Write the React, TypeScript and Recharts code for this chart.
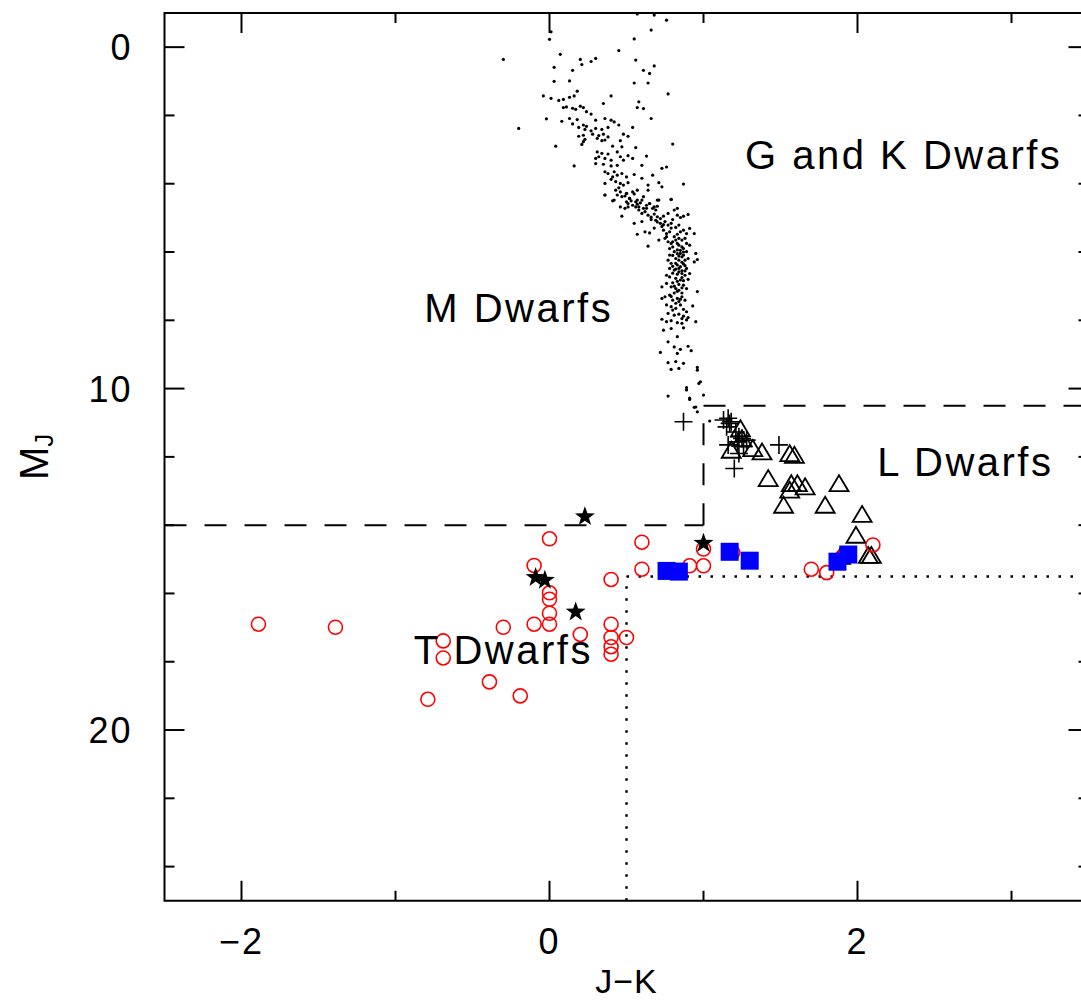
import React from 'react';
import { ScatterChart, Scatter, XAxis, YAxis, ReferenceLine, ReferenceArea, ReferenceDot } from 'recharts';

// ---- data (J-K, M_J) ----
const fieldDwarfs = [
  [0.57,-0.97],[0.68,-0.94],[0.76,-0.79],[0.66,-0.50],[0.55,-0.24],[0.00,-0.23],[0.01,-0.45],[0.45,0.10],[0.07,0.21],[-0.30,0.36],
  [0.20,0.36],[0.27,0.42],[0.30,0.33],[0.21,0.51],[0.56,0.38],[0.03,0.59],[0.15,0.68],[0.61,0.68],[0.68,0.55],[0.65,0.77],
  [0.03,1.00],[0.13,0.99],[0.55,1.05],[0.64,1.05],[0.18,1.29],[-0.04,1.43],[0.01,1.50],[0.06,1.56],[0.09,1.53],[0.13,1.47],
  [0.16,1.43],[0.40,1.43],[0.77,1.37],[0.35,1.65],[0.58,1.60],[0.57,1.77],[0.61,1.80],[0.09,1.77],[0.11,1.75],[0.15,1.79],
  [0.17,1.82],[0.20,1.73],[0.22,1.77],[0.24,1.89],[0.27,1.96],[-0.02,2.10],[0.08,2.17],[0.13,2.09],[0.18,2.12],[0.15,2.25],
  [0.22,2.28],[0.24,2.32],[0.30,2.14],[0.36,2.09],[0.40,2.14],[0.42,2.19],[0.66,2.09],[-0.20,2.38],[0.19,2.35],[0.23,2.41],
  [0.27,2.45],[0.30,2.38],[0.34,2.41],[0.38,2.35],[0.45,2.28],[0.54,2.35],[0.19,2.61],[0.22,2.58],[0.28,2.55],[0.32,2.59],
  [0.35,2.55],[0.38,2.63],[0.22,2.77],[0.23,2.70],[0.31,2.67],[0.34,2.74],[0.36,2.72],[0.48,2.55],[0.51,2.61],[0.46,2.74],
  [0.21,2.85],[0.04,2.90],[0.41,2.90],[0.47,2.92],[0.56,2.94],[0.80,2.84],[0.31,3.07],[0.34,3.11],[0.38,3.13],[0.44,3.07],
  [0.51,3.18],[0.63,3.19],[0.30,3.26],[0.32,3.21],[0.36,3.26],[0.40,3.31],[0.46,3.21],[0.48,3.31],[0.54,3.26],[0.16,3.48],
  [0.30,3.41],[0.35,3.43],[0.40,3.48],[0.44,3.46],[0.60,3.46],[0.73,3.55],[0.76,3.51],[0.36,3.65],[0.38,3.70],[0.42,3.65],
  [0.44,3.75],[0.47,3.70],[0.50,3.80],[0.55,3.73],[0.67,3.75],[0.36,3.99],[0.40,3.87],[0.43,3.94],[0.46,3.99],[0.48,4.04],
  [0.51,3.97],[0.60,3.84],[0.64,4.04],[0.71,3.97],[0.87,4.01],[0.36,4.33],[0.43,4.19],[0.46,4.24],[0.50,4.28],[0.54,4.24],
  [0.57,4.19],[0.64,4.19],[0.73,4.09],[0.41,4.50],[0.50,4.53],[0.52,4.43],[0.56,4.53],[0.60,4.48],[0.65,4.58],[0.70,4.48],
  [0.79,4.46],[0.51,4.68],[0.58,4.68],[0.63,4.72],[0.68,4.68],[0.83,4.72],
  [0.36,4.33],[0.42,4.48],[0.44,4.33],[0.47,4.38],[0.50,4.29],[0.52,4.43],[0.55,4.30],[0.57,4.48],[0.51,4.58],[0.54,4.63],
  [0.56,4.68],[0.59,4.56],[0.61,4.38],[0.63,4.63],[0.65,4.58],[0.67,4.72],[0.69,4.77],[0.71,4.48],[0.70,4.66],[0.46,4.68],
  [0.49,4.72],[0.58,4.77],[0.60,4.87],[0.62,4.82],[0.64,4.92],[0.68,4.89],[0.70,4.97],[0.72,5.02],[0.74,4.95],[0.77,4.87],
  [0.79,4.46],[0.81,4.77],[0.83,4.92],[0.85,4.99],[0.87,4.95],[0.90,4.90],[0.47,4.95],[0.55,5.16],[0.60,5.11],[0.62,5.41],
  [0.65,5.44],[0.57,5.48],[0.64,5.83],[0.69,5.07],[0.72,5.16],[0.75,5.11],[0.77,5.21],[0.79,5.16],[0.82,5.28],[0.84,5.21],
  [0.74,5.36],[0.76,5.46],[0.78,5.41],[0.81,5.55],[0.83,5.48],[0.85,5.41],[0.87,5.36],[0.89,5.46],[0.91,5.31],[0.94,5.46],
  [0.71,5.65],[0.75,5.60],[0.77,5.70],[0.79,5.75],[0.82,5.65],[0.84,5.80],[0.86,5.65],[0.88,5.60],[0.89,5.75],[0.91,5.80],
  [0.87,5.90],[0.78,5.90],[0.81,5.99],[0.83,5.94],[0.85,6.04],[0.87,6.09],[0.89,5.99],[0.78,6.09],[0.82,6.19],[0.84,6.24],
  [0.86,6.14],[0.88,6.24],[0.90,6.19],[0.95,6.04],[0.96,6.22],[0.94,6.29],[0.77,6.24],[0.79,6.33],[0.83,6.38],[0.85,6.43],
  [0.87,6.35],[0.89,6.48],[0.78,6.48],[0.81,6.53],[0.84,6.58],[0.86,6.63],[0.88,6.68],[0.91,6.63],[0.76,6.68],[0.78,6.73],
  [0.82,6.77],[0.85,6.82],[0.87,6.84],[0.90,6.80],[0.73,7.02],[0.76,6.92],[0.79,7.02],[0.82,7.07],[0.84,7.12],[0.87,6.97],
  [0.89,7.07],[0.96,7.16],[0.73,7.36],[0.75,7.31],[0.78,7.26],[0.80,7.41],[0.83,7.36],[0.86,7.31],[0.88,7.41],[0.76,7.55],
  [0.79,7.60],[0.82,7.65],[0.85,7.55],[0.87,7.68],[0.89,7.75],[0.93,7.58],[0.77,7.80],[0.81,7.85],[0.84,7.82],[0.87,7.88],
  [0.90,7.92],[0.73,7.97],[0.76,8.04],[0.79,8.01],[0.83,8.07],[0.86,8.09],[0.89,7.99],[0.95,8.04],[0.74,8.29],[0.79,8.24],
  [0.87,8.22],[0.83,8.48],[0.77,8.63],[0.81,8.78],[0.85,8.85],[0.90,8.76],[0.92,8.89],[0.83,8.97],[0.72,8.94],[0.77,9.24],
  [0.82,9.21],[0.79,9.44],[0.84,9.41],[0.87,9.26],[0.96,9.38],[0.96,9.46],[0.98,9.80],[0.97,9.85],[0.89,9.97],[1.00,10.19],
  [0.77,10.22],[0.91,10.32],[0.94,10.55],[0.96,10.68],[0.89,10.04],[0.91,10.28],[0.95,10.54],[1.04,10.95],
  [0.80,5.70],[0.84,5.60],[0.86,5.85],[0.80,6.10],[0.83,6.05],[0.88,6.40],[0.82,6.50],[0.86,6.55],[0.80,6.90],[0.84,6.95],
  [0.86,7.20],[0.81,7.20],[0.84,7.45],[0.80,7.70],[0.86,7.95],[0.79,5.30],[0.73,5.25],[0.68,5.30],[0.66,5.05],[0.80,5.05],
  [0.83,5.75],[0.85,5.95],[0.87,6.00],[0.84,6.12],[0.86,6.30],[0.82,6.33],[0.80,6.42],[0.84,6.48],[0.88,6.55],[0.83,6.65],
  [0.80,6.62],[0.86,6.75],[0.83,6.86],[0.81,7.00],[0.86,7.05],[0.83,7.15],[0.79,7.30],[0.85,7.38],[0.82,7.50],[0.80,5.85],
  [0.76,5.55],[0.74,5.20],[0.70,5.12],[0.66,4.98],[0.61,4.72],[0.57,4.60],[0.53,4.50],[0.49,4.36],[0.45,4.12],[0.41,3.80],
];

const lDwarfsPlus = [
  [0.87,10.97],[1.13,10.92],[1.16,10.87],[1.17,11.02],[1.15,11.12],[1.18,10.97],[1.23,11.41],[1.25,11.46],
  [1.22,11.56],[1.26,11.70],[1.28,11.51],[1.21,11.27],[1.16,11.65],[1.20,12.34],[1.23,11.90],[1.49,11.65],
];

const lDwarfsTriangles = [
  [1.24,11.22],[1.18,11.85],[1.32,11.80],[1.38,11.90],[1.56,11.95],[1.59,12.00],[1.42,12.68],[1.57,12.83],
  [1.61,12.83],[1.66,12.92],[1.88,12.83],[1.56,13.02],[1.52,13.46],[1.79,13.46],[2.03,13.73],[1.99,14.34],
  [2.07,14.93],[2.09,14.93],[1.89,14.96],[1.25,11.51],
];

const tDwarfsCircles = [
  [-1.89,16.90],[-1.39,16.99],[-0.69,17.39],[-0.69,17.89],[-0.79,19.10],[-0.39,18.59],[-0.19,19.00],[-0.30,16.99],
  [-0.10,16.90],[0.00,14.40],[-0.10,15.18],[0.00,15.98],[0.00,16.17],[0.00,16.58],[0.00,16.90],[0.20,17.20],
  [0.40,15.59],[0.40,16.90],[0.40,17.29],[0.40,17.56],[0.40,17.78],[0.50,17.29],[0.60,14.50],[0.60,15.29],
  [1.00,14.70],[0.91,15.19],[1.00,15.19],[1.19,14.80],[1.70,15.29],[1.80,15.39],[2.10,14.58],[1.90,14.93],
];

const blueSquares = [
  [0.76,15.34],[0.84,15.36],[1.17,14.78],[1.30,15.04],[1.87,15.07],[1.94,14.86],
];

const blackStars = [
  [0.23,13.75],[-0.09,15.53],[-0.03,15.61],[0.17,16.54],[1.00,14.53],
];

const regionLabels = [
  { x: 2.30, y: 3.16, text: 'G and K Dwarfs' },
  { x: -0.20, y: 7.64, text: 'M Dwarfs' },
  { x: 2.70, y: 12.15, text: 'L Dwarfs' },
  { x: -0.30, y: 17.66, text: 'T Dwarfs' },
];

const xTicks = [-2, -1, 0, 1, 2, 3];
const yTicks = [0, 2, 4, 6, 8, 10, 12, 14, 16, 18, 20, 22, 24];
const X_DOMAIN: [number, number] = [-2.5, 3.5];
const Y_DOMAIN: [number, number] = [-1, 25];

const toPts = (arr: number[][]) => arr.map(([x, y]) => ({ x, y }));

// ---- layout ----
const FONT = '"Liberation Sans", Arial, sans-serif';
const CHART_W = 1100;
const CHART_H = 1006;
const Y_AXIS_W = 164.5;
const X_AXIS_H = 60;
const MARGIN = { top: 13, right: 11.5, bottom: 45.25, left: 0 };
const PLOT_W = CHART_W - MARGIN.left - MARGIN.right - Y_AXIS_W;
const PLOT_H = CHART_H - MARGIN.top - MARGIN.bottom - X_AXIS_H;
const X_TICK_MARGIN = 28;
const Y_TICK_MARGIN = 32;

const fmt = (v: number) => (v < 0 ? '\u2212' + Math.abs(v) : String(v));

const XTick = (props: any) => {
  const { x, y, payload } = props;
  const v = payload.value;
  const major = v % 2 === 0;
  const len = major ? 20 : 10;
  const axisY = y - X_TICK_MARGIN;
  const topY = axisY - PLOT_H;
  return (
    <g>
      <line x1={x} y1={axisY} x2={x} y2={axisY - len} stroke="#000" strokeWidth={2} />
      <line x1={x} y1={topY} x2={x} y2={topY + len} stroke="#000" strokeWidth={2} />
      {major && (
        <text x={x} y={y} dy="0.71em" textAnchor="middle" fontSize={36} fontFamily={FONT} fill="#000" letterSpacing={2}>
          {fmt(v)}
        </text>
      )}
    </g>
  );
};

const YTick = (props: any) => {
  const { x, y, payload } = props;
  const v = payload.value;
  const major = v % 10 === 0;
  const len = major ? 20 : 10;
  const axisX = x + Y_TICK_MARGIN;
  const rightX = axisX + PLOT_W;
  return (
    <g>
      <line x1={axisX} y1={y} x2={axisX + len} y2={y} stroke="#000" strokeWidth={2} />
      <line x1={rightX} y1={y} x2={rightX - len} y2={y} stroke="#000" strokeWidth={2} />
      {major && (
        <text x={x} y={y} dy="0.36em" textAnchor="end" fontSize={36} fontFamily={FONT} fill="#000" letterSpacing={2}>
          {fmt(v)}
        </text>
      )}
    </g>
  );
};

const XLabel = (props: any) => {
  const vb = props.viewBox || {};
  const cx = vb.x + vb.width / 2;
  return (
    <text x={cx} y={969} dy="0.71em" textAnchor="middle" fontSize={34} fontFamily={FONT} fill="#000" letterSpacing={1}>
      J{'\u2212'}K
    </text>
  );
};

const YLabel = (props: any) => {
  const vb = props.viewBox || {};
  const cy = vb.y + vb.height / 2;
  const cx = 34;
  return (
    <text transform={`translate(${cx},${cy}) rotate(-90)`} textAnchor="middle" dominantBaseline="central" fontSize={40} fontFamily={FONT} fill="#000">
      M<tspan fontSize={26} dy={10}>J</tspan>
    </text>
  );
};

const DotShape = (p: any) => <circle cx={p.cx} cy={p.cy} r={1.6} fill="#000" />;
const PlusShape = (p: any) => (
  <path d={`M${p.cx - 9},${p.cy}H${p.cx + 9}M${p.cx},${p.cy - 9}V${p.cy + 9}`} stroke="#000" strokeWidth={1.6} fill="none" />
);
const TriangleShape = (p: any) => (
  <polygon points={`${p.cx},${p.cy - 10} ${p.cx - 9.5},${p.cy + 6} ${p.cx + 9.5},${p.cy + 6}`} stroke="#000" strokeWidth={1.8} fill="none" />
);
const CircleShape = (p: any) => <circle cx={p.cx} cy={p.cy} r={7} stroke="#ff0000" strokeWidth={1.6} fill="none" />;
const SquareShape = (p: any) => <rect x={p.cx - 9} y={p.cy - 9} width={18} height={18} fill="#0000ff" />;
const StarShape = (p: any) => {
  const pts: string[] = [];
  for (let i = 0; i < 10; i++) {
    const r = i % 2 === 0 ? 10.5 : 4.2;
    const a = -Math.PI / 2 + (i * Math.PI) / 5;
    pts.push(`${p.cx + r * Math.cos(a)},${p.cy + r * Math.sin(a)}`);
  }
  return <polygon points={pts.join(' ')} fill="#000" />;
};

const LabelShape = (text: string) => (p: any) => (
  <text x={p.cx} y={p.cy} textAnchor="middle" dominantBaseline="central" fontSize={40} fontFamily={FONT} fill="#000" letterSpacing={2.5}>
    {text}
  </text>
);

export default function App() {
  return (
    <div style={{ position: 'absolute', left: 0, top: 0, width: 1081, height: 1006, overflow: 'hidden', background: '#fff' }}>
      <ScatterChart width={CHART_W} height={CHART_H} margin={MARGIN}>
        <XAxis
          type="number"
          dataKey="x"
          domain={X_DOMAIN}
          ticks={xTicks}
          allowDataOverflow
          height={X_AXIS_H}
          tickSize={0}
          tickMargin={X_TICK_MARGIN}
          tickLine={false}
          axisLine={false}
          tick={<XTick />}
          interval={0}
          label={<XLabel />}
        />
        <YAxis
          type="number"
          dataKey="y"
          domain={Y_DOMAIN}
          reversed
          ticks={yTicks}
          allowDataOverflow
          width={Y_AXIS_W}
          tickSize={0}
          tickMargin={Y_TICK_MARGIN}
          tickLine={false}
          axisLine={false}
          tick={<YTick />}
          interval={0}
          label={<YLabel />}
        />
        <ReferenceArea x1={X_DOMAIN[0]} x2={X_DOMAIN[1]} y1={Y_DOMAIN[0]} y2={Y_DOMAIN[1]} fill="none" fillOpacity={0} stroke="#000" strokeWidth={2} ifOverflow="visible" />
        <ReferenceLine segment={[{ x: -2.5, y: 14 }, { x: 1, y: 14 }]} stroke="#000" strokeWidth={2} strokeDasharray="22 18" />
        <ReferenceLine segment={[{ x: 1, y: 14 }, { x: 1, y: 10.5 }]} stroke="#000" strokeWidth={2} strokeDasharray="22 18" />
        <ReferenceLine segment={[{ x: 1, y: 10.5 }, { x: 3.5, y: 10.5 }]} stroke="#000" strokeWidth={2} strokeDasharray="22 18" />
        <ReferenceLine segment={[{ x: 0.5, y: 25 }, { x: 0.5, y: 15.5 }]} stroke="#000" strokeWidth={2.5} strokeDasharray="2.5 9.5" />
        <ReferenceLine segment={[{ x: 0.5, y: 15.5 }, { x: 3.5, y: 15.5 }]} stroke="#000" strokeWidth={2.5} strokeDasharray="2.5 9.5" />
        <Scatter data={toPts(fieldDwarfs)} shape={DotShape} isAnimationActive={false} />
        <Scatter data={toPts(lDwarfsPlus)} shape={PlusShape} isAnimationActive={false} />
        <Scatter data={toPts(lDwarfsTriangles)} shape={TriangleShape} isAnimationActive={false} />
        <Scatter data={toPts(tDwarfsCircles)} shape={CircleShape} isAnimationActive={false} />
        <Scatter data={toPts(blueSquares)} shape={SquareShape} isAnimationActive={false} />
        <Scatter data={toPts(blackStars)} shape={StarShape} isAnimationActive={false} />
        {regionLabels.map((l) => (
          <ReferenceDot key={l.text} x={l.x} y={l.y} r={1} shape={LabelShape(l.text)} />
        ))}
      </ScatterChart>
    </div>
  );
}
